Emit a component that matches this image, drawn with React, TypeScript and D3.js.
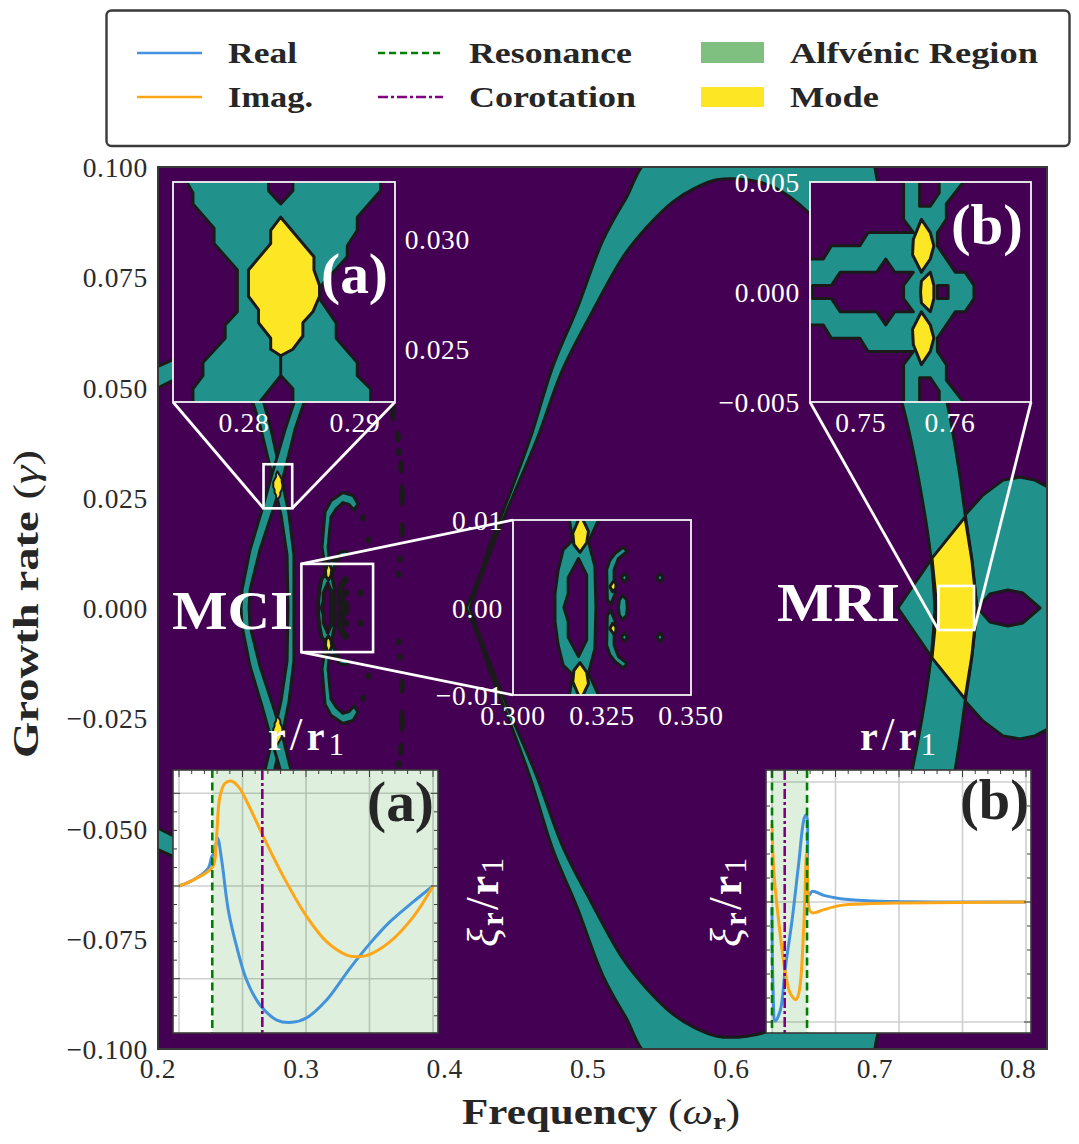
import * as d3 from "d3"

type Pt = [number, number]

const SERIF = "'Liberation Serif', serif"
const PURPLE = "#440154"
const TEAL = "#21918c"
const YELLOW = "#fde725"
const EDGE = "#1a1a1a"
const SPINE = "#3a3a3a"
const BLUE = "#4393dc"
const ORANGE = "#ffa616"
const GREEN = "#008000"
const VIOLET = "#800080"

// main map, upper half only: the growth rate map is mirrored about zero
const arcOuter: Pt[] = [[0.4148, 0], [0.4232, 0.0063], [0.4315, 0.0143], [0.4448, 0.0254], [0.4594, 0.0383], [0.4755, 0.0549], [0.4922, 0.0678], [0.5103, 0.0834], [0.5257, 0.0925], [0.5466, 0.1027], [0.695, 0.1027], [0.7021, 0.0966], [0.7174, 0.0834], [0.7349, 0.0653], [0.7502, 0.0467], [0.7586, 0.0313], [0.7628, 0.0215], [0.7676, 0.0109], [0.7711, 0]]
const arcInner: Pt[] = [[0.4176, 0], [0.4245, 0.0063], [0.435, 0.0154], [0.4476, 0.0254], [0.4643, 0.0383], [0.4824, 0.0542], [0.5013, 0.0662], [0.5243, 0.0796], [0.541, 0.0864], [0.5591, 0.0921], [0.5745, 0.0952], [0.5898, 0.0971], [0.6107, 0.0971], [0.6289, 0.0955], [0.6533, 0.0898], [0.6721, 0.0823], [0.6895, 0.0721], [0.707, 0.0585], [0.7188, 0.0467], [0.7293, 0.0313], [0.7391, 0.0113], [0.7418, 0]]
const ovalHalf: Pt[] = [[0.716, 0], [0.7398, 0.0113], [0.7628, 0.0211], [0.7753, 0.0256], [0.7893, 0.029], [0.8011, 0.0297], [0.8116, 0.029], [0.822, 0.0272], [0.822, 0]]
const ovalHole: Pt[] = [[0.7718, 0], [0.7802, 0.0032], [0.7927, 0.0041], [0.8032, 0.0034], [0.8151, 0]]
const modeMri: Pt[] = [[0.7432, 0], [0.7398, 0.0113], [0.7628, 0.0206], [0.7676, 0.0109], [0.7711, 0]]
const edgeBand: Pt[] = [[0.1944, 0.054], [0.2098, 0.0562], [0.2293, 0.0596], [0.2293, 0.0549], [0.2098, 0.0515], [0.1944, 0.049]]
const mciRightOuter: Pt[] = [[0.2697, 0.0506], [0.2732, 0.0472], [0.2781, 0.0415], [0.2858, 0.0302], [0.2914, 0.0211], [0.2948, 0.012], [0.2948, 0]]
const mciRightInner: Pt[] = [[0.2621, 0.0506], [0.2656, 0.0472], [0.2711, 0.0415], [0.2795, 0.0302], [0.2858, 0.0211], [0.29, 0.012], [0.2907, 0]]
const mciLeftInner: Pt[] = [[0.306, 0.0506], [0.3025, 0.0472], [0.2955, 0.0404], [0.2872, 0.0295], [0.2802, 0.0222], [0.2711, 0.0132], [0.2642, 0.0041], [0.2635, 0]]
const mciLeftOuter: Pt[] = [[0.299, 0.0506], [0.2955, 0.0472], [0.2886, 0.0404], [0.2788, 0.0295], [0.2725, 0.0222], [0.2642, 0.0132], [0.2586, 0.0041], [0.2579, 0]]
const ringHook: Pt[] = [[0.3165, 0.0093], [0.3144, 0.0138], [0.3165, 0.0218], [0.3206, 0.0243], [0.329, 0.0262], [0.336, 0.0255], [0.3395, 0.0236], [0.3367, 0.0222], [0.3332, 0.0235], [0.329, 0.0239], [0.3241, 0.0224], [0.3206, 0.0206], [0.3186, 0.0138], [0.3199, 0.0093]]
const ringSpur: Pt[] = [[0.322, 0.0107], [0.3269, 0.0127], [0.3318, 0.0129], [0.3325, 0.012], [0.3276, 0.0118], [0.3241, 0.0102]]
// thin unresolved islands: frequency, growth, half height
const islands: [number, number, number][] = [[0.3639, 0.0442, 0.002], [0.3674, 0.0388, 0.0014], [0.3681, 0.0354, 0.0009], [0.3695, 0.032, 0.0016], [0.3702, 0.0256, 0.0027], [0.3702, 0.0177, 0.0018], [0.3688, 0.0111, 0.0008], [0.3681, 0.0077, 0.0007], [0.343, 0.0204, 0.0008], [0.3471, 0.0154, 0.0008]]

// zoom (a)
const tealA: Pt[] = [[0.2745, 0.0329], [0.2754, 0.0321], [0.2754, 0.0316], [0.2773, 0.0305], [0.2773, 0.0298], [0.2794, 0.0286], [0.2794, 0.0267], [0.2783, 0.0261], [0.2783, 0.0255], [0.2763, 0.0244], [0.2763, 0.0238], [0.2754, 0.0232], [0.2754, 0.0224], [0.2811, 0.0224], [0.2833, 0.0238], [0.2844, 0.0232], [0.2844, 0.0224], [0.2914, 0.0224], [0.2914, 0.0232], [0.2902, 0.0238], [0.2902, 0.0244], [0.2883, 0.0255], [0.2883, 0.0262], [0.2868, 0.0273], [0.2868, 0.0278], [0.2893, 0.0292], [0.2893, 0.0297], [0.2902, 0.0304], [0.2902, 0.031], [0.2923, 0.0322], [0.2923, 0.0329], [0.2844, 0.0329], [0.2844, 0.0322], [0.2833, 0.0316], [0.2822, 0.0322], [0.2822, 0.0329]]
const modeA: Pt[] = [[0.2833, 0.031], [0.2824, 0.0304], [0.2824, 0.0298], [0.2804, 0.0286], [0.2804, 0.0274], [0.2813, 0.0268], [0.2813, 0.0262], [0.2824, 0.0255], [0.2824, 0.025], [0.2833, 0.0247], [0.2844, 0.025], [0.2853, 0.0256], [0.2853, 0.0262], [0.2862, 0.0267], [0.2868, 0.0274], [0.2868, 0.0279], [0.2863, 0.0286], [0.2863, 0.0292]]
const stubA: Pt[] = [[0.2833, 0.0247], [0.2833, 0.0238]]

// zoom (b)
const tealB: Pt[] = [[0.7435, 0], [0.7435, 0.0015], [0.7458, 0.0015], [0.7467, 0.0021], [0.7499, 0.0021], [0.7508, 0.0027], [0.7559, 0.0027], [0.7548, 0.0033], [0.7548, 0.0052], [0.7566, 0.0052], [0.7566, 0.0039], [0.7578, 0.0039], [0.7588, 0.0045], [0.7588, 0.0052], [0.7619, 0.0052], [0.7596, 0.004], [0.7596, 0.0033], [0.7586, 0.0027], [0.7586, 0.0021], [0.7606, 0.0009], [0.7617, 0.0009], [0.7627, 0.0003], [0.7627, 0]]
const holeB: Pt[] = [[0.7446, 0], [0.7446, 0.0003], [0.7467, 0.0003], [0.7477, 0.0009], [0.7518, 0.0009], [0.7528, 0.0015], [0.7538, 0.0009], [0.7559, 0.0009], [0.7548, 0.0003], [0.7548, 0]]
const squareB: Pt[] = [[0.7586, 0], [0.7586, 0.0003], [0.7598, 0.0003], [0.7598, 0]]
const modeBUpper: Pt[] = [[0.7568, 0.0033], [0.7559, 0.0024], [0.7558, 0.0017], [0.7568, 0.0009], [0.7578, 0.0015], [0.7582, 0.0021], [0.7578, 0.0027]]
const modeBCentre: Pt[] = [[0.7567, 0], [0.7568, 0.0005], [0.7578, 0.0009], [0.7582, 0.0003], [0.7582, 0]]

// zoom around the corotation structure, also drawn in the main map
const tealC: Pt[] = [[0.3118, 0], [0.3118, 0.0016], [0.3127, 0.0043], [0.3141, 0.0066], [0.3168, 0.0077], [0.3155, 0.0108], [0.3249, 0.0108], [0.3212, 0.0075], [0.323, 0.0047], [0.3233, 0]]
const holeC: Pt[] = [[0.3143, 0], [0.3155, 0.0016], [0.3155, 0.0034], [0.3184, 0.0056], [0.3207, 0.0037], [0.3207, 0]]
const crescentC: Pt[] = [[0.3321, 0.0064], [0.331, 0.0069], [0.3287, 0.0062], [0.3272, 0.0054], [0.3263, 0.0043], [0.3265, 0.0009], [0.3274, 0.0003], [0.3287, 0.0016], [0.3284, 0.0032], [0.3284, 0.0043], [0.3296, 0.0056]]
const ovalC: Pt[] = [[0.3296, 0], [0.3299, 0.0009], [0.3308, 0.0014], [0.3319, 0.0009], [0.3321, 0]]
const modeCTop: Pt[] = [[0.319, 0.0106], [0.3212, 0.0087], [0.3207, 0.0074], [0.3188, 0.0063], [0.3171, 0.0072], [0.3168, 0.0085]]
const modeCSmall: Pt[] = [[0.3282, 0.003], [0.3272, 0.0024], [0.328, 0.0018], [0.3289, 0.0022], [0.3289, 0.0028]]
const diamondsC: Pt[] = [[0.3313, 0.0034], [0.3413, 0.0034]]

// eigenfunctions
const realA: Pt[] = [[1, 0], [1.056, 0.065], [1.115, 0.191], [1.129, 0.317], [1.138, 0.353], [1.152, 0.514], [1.168, 0.281], [1.194, -0.259], [1.227, -0.655], [1.266, -1.014], [1.319, -1.284], [1.385, -1.446], [1.444, -1.471], [1.503, -1.421], [1.581, -1.23], [1.673, -0.888], [1.752, -0.619], [1.831, -0.385], [1.923, -0.169], [2, 0]]
const imagA: Pt[] = [[1, 0], [1.056, 0.065], [1.133, 0.209], [1.146, 0.46], [1.161, 0.964], [1.181, 1.108], [1.205, 1.133], [1.234, 1.072], [1.28, 0.838], [1.332, 0.532], [1.411, 0.101], [1.503, -0.331], [1.581, -0.601], [1.66, -0.745], [1.706, -0.763], [1.752, -0.737], [1.831, -0.601], [1.923, -0.331], [2, 0]]
const realB: Pt[] = [[1, -0.042], [1.004, -0.706], [1.013, -0.992], [1.033, -0.9], [1.053, -0.54], [1.079, -0.152], [1.105, 0.319], [1.128, 0.706], [1.136, 0.726], [1.145, 0.055], [1.158, 0.089], [1.204, 0.055], [1.27, 0.028], [1.375, 0.011], [1.507, 0.003], [1.638, 0], [2, 0]]
const imagB: Pt[] = [[1, 0.651], [1.007, 0.263], [1.026, -0.152], [1.053, -0.596], [1.072, -0.762], [1.095, -0.812], [1.108, -0.734], [1.125, -0.208], [1.136, 0.402], [1.141, 0.18], [1.149, -0.075], [1.162, -0.091], [1.204, -0.064], [1.27, -0.028], [1.375, -0.014], [1.507, -0.008], [2, 0]]

const freqTicks = [0.2, 0.3, 0.4, 0.5, 0.6, 0.7, 0.8]
const growthTicks = [-0.1, -0.075, -0.05, -0.025, 0, 0.025, 0.05, 0.075, 0.1]
const radiusTicks = [1, 1.25, 1.5, 1.75, 2]

const legendLines = [
  { label: "Real", color: BLUE, dash: "", col: 0, row: 0, len: 69 },
  { label: "Imag.", color: ORANGE, dash: "", col: 0, row: 1, len: 85 },
  { label: "Resonance", color: GREEN, dash: "7 4", col: 1, row: 0, len: 163 },
  { label: "Corotation", color: VIOLET, dash: "10 3 3 3", col: 1, row: 1, len: 167 },
]

const mirror = (pts: Pt[]): Pt[] => pts.map(([f, g]) => [f, -g] as Pt)
const mirrorLoop = (half: Pt[]): Pt[] => [...half, ...mirror(half).reverse()]
const ribbon = (a: Pt[], b: Pt[]): Pt[] => [...a, ...mirror(a).reverse(), ...mirror(b), ...[...b].reverse()]

const W = 1079
const H = 1144
const xMain = d3.scaleLinear().domain([0.2, 0.82]).range([158, 1047])
const yMain = d3.scaleLinear().domain([-0.1, 0.1]).range([1049, 167])

const xA = d3.scaleLinear().domain([0.2736, 0.2936]).range([173, 395])
const yA = d3.scaleLinear().domain([0.0226, 0.0326]).range([402, 182])
const xB = d3.scaleLinear().domain([0.7443, 0.7691]).range([810, 1031])
const yB = d3.scaleLinear().domain([-0.005, 0.005]).range([402, 182])
const xC = d3.scaleLinear().domain([0.3, 0.35]).range([513, 691])
const yC = d3.scaleLinear().domain([-0.01, 0.01]).range([695, 520])

type Sc = d3.ScaleLinear<number, number>

function loopPath(x: Sc, y: Sc, smooth: boolean, ...loops: Pt[][]) {
  const line = d3.line<Pt>().x((d) => x(d[0])).y((d) => y(d[1]))
  if (smooth) line.curve(d3.curveCatmullRomClosed.alpha(0.5))
  return loops.map((l) => line(l) + "Z").join("")
}

function Region({
  x,
  y,
  loops,
  fill = TEAL,
  width = 3,
  smooth = false,
}: {
  x: Sc
  y: Sc
  loops: Pt[][]
  fill?: string
  width?: number
  smooth?: boolean
}) {
  return (
    <path
      d={loopPath(x, y, smooth, ...loops)}
      fill={fill}
      fillRule="evenodd"
      stroke={EDGE}
      strokeWidth={width}
      strokeLinejoin="round"
    />
  )
}

function Corotation({ x, y, width = 3 }: { x: Sc; y: Sc; width?: number }) {
  const diamond = ([f, g]: Pt): Pt[] => [[f - 0.0009, g], [f, g + 0.0005], [f + 0.0009, g], [f, g - 0.0005]]
  return (
    <g>
      <Region x={x} y={y} width={width} loops={[mirrorLoop(tealC), mirrorLoop(holeC)]} />
      <Region x={x} y={y} width={width} loops={[crescentC, mirror(crescentC), mirrorLoop(ovalC)]} />
      <Region x={x} y={y} width={width} loops={[...diamondsC.map(diamond), ...mirror(diamondsC).map(diamond)]} />
      <Region x={x} y={y} width={Math.min(width, 3)} loops={[modeCTop, mirror(modeCTop), modeCSmall, mirror(modeCSmall)]} fill={YELLOW} />
    </g>
  )
}

function MainMap() {
  return (
    <g clipPath="url(#clip-main)">
      <rect x={158} y={167} width={889} height={882} fill={PURPLE} />
      <Region x={xMain} y={yMain} loops={[mirrorLoop(ovalHalf), mirrorLoop(ovalHole)]} />
      <Region x={xMain} y={yMain} smooth loops={[mirrorLoop(arcOuter), mirrorLoop(arcInner)]} />
      <Region x={xMain} y={yMain} fill={YELLOW} loops={[mirrorLoop(modeMri)]} />
      <Region x={xMain} y={yMain} loops={[edgeBand, mirror(edgeBand)]} />
      <Region x={xMain} y={yMain} loops={[ribbon(mciRightOuter, mciRightInner)]} />
      <Region x={xMain} y={yMain} loops={[ribbon(mciLeftInner, mciLeftOuter)]} />
      <Region x={xMain} y={yMain} fill={YELLOW} width={2} loops={[modeA, mirror(modeA)]} />
      <Region x={xMain} y={yMain} loops={[ringHook, mirror(ringHook), ringSpur, mirror(ringSpur)]} />
      <Corotation x={xMain} y={yMain} width={3.8} />
      {[...islands, ...islands.map(([f, g, h]) => [f, -g, h] as [number, number, number])].map(([f, g, h], i) => (
        <ellipse
          key={i}
          cx={xMain(f)}
          cy={yMain(g)}
          rx={xMain(f + 0.002) - xMain(f)}
          ry={yMain(g - h) - yMain(g)}
          fill={EDGE}
        />
      ))}
    </g>
  )
}

function ZoomBox({ x, y, id, children }: { x: Sc; y: Sc; id: string; children: React.ReactNode }) {
  const [x0, x1] = x.range()
  const [y0, y1] = y.range()
  return (
    <g>
      <clipPath id={id}>
        <rect x={x0} y={y1} width={x1 - x0} height={y0 - y1} />
      </clipPath>
      <rect x={x0} y={y1} width={x1 - x0} height={y0 - y1} fill={PURPLE} />
      <g clipPath={`url(#${id})`}>{children}</g>
      <rect x={x0} y={y1} width={x1 - x0} height={y0 - y1} fill="none" stroke="#f4f4f4" strokeWidth={1.8} />
    </g>
  )
}

// source rectangle on the main map plus the two lines running out to the zoom
function Indicator({ x, y, from, to }: { x: Sc; y: Sc; from: number[]; to: number[] }) {
  const [f0, f1] = x.domain()
  const [g0, g1] = y.domain()
  const lx = xMain(f0)
  const rx = xMain(f1)
  const ty = yMain(g1)
  const by = yMain(g0)
  const pts = [[lx, by], [rx, by], [lx, ty], [lx, by]]
  return (
    <g stroke="#fff" fill="none">
      <rect x={lx} y={ty} width={rx - lx} height={by - ty} strokeWidth={2.6} />
      {from.length === 4 && (
        <>
          <line x1={pts[from[0]][0]} y1={pts[from[0]][1]} x2={to[0]} y2={to[1]} strokeWidth={2.8} />
          <line x1={pts[from[1]][0]} y1={pts[from[1]][1]} x2={to[2]} y2={to[3]} strokeWidth={2.8} />
        </>
      )}
    </g>
  )
}

function Num({ x, y, text, anchor, fill = "#2b2b2b" }: { x: number; y: number; text: string; anchor: "end" | "middle"; fill?: string }) {
  return (
    <text x={x} y={y} textAnchor={anchor} fontFamily={SERIF} fontSize={27.5} letterSpacing={0.7} fill={fill}>
      {text}
    </text>
  )
}

function ModePanel({
  id,
  x0,
  real,
  imag,
  yUnit,
  yZero,
  shade,
  resonances,
  corotation,
  minorRange,
}: {
  id: string
  x0: number
  real: Pt[]
  imag: Pt[]
  yUnit: number
  yZero: number
  shade: number[]
  resonances: number[]
  corotation: number
  minorRange: number[]
}) {
  const top = 770
  const bottom = 1033
  const xs = d3.scaleLinear().domain([1, 2]).range([x0 + 6, x0 + 260])
  const ys = d3.scaleLinear().domain([0, 1]).range([yZero, yZero - yUnit])
  const left = x0
  const right = x0 + 265
  const line = d3.line<Pt>().x((d) => xs(d[0])).y((d) => ys(d[1])).curve(d3.curveCatmullRom.alpha(0.5))
  const minorX = d3.range(1, 2.0001, 0.05)
  const minorY = d3.range(minorRange[0], minorRange[1] + 0.001, 0.2)
  const isMajorY = (v: number) => Math.abs(v - Math.round(v)) < 0.01
  const isMajorX = (v: number) => radiusTicks.some((t) => Math.abs(t - v) < 0.01)
  return (
    <g>
      <clipPath id={id}>
        <rect x={left} y={top} width={right - left} height={bottom - top} />
      </clipPath>
      <rect x={left} y={top} width={right - left} height={bottom - top} fill="#fff" />
      <g clipPath={`url(#${id})`}>
        {radiusTicks.map((t) => (
          <line key={t} x1={xs(t)} x2={xs(t)} y1={top} y2={bottom} stroke="#cfcfcf" strokeWidth={1.6} />
        ))}
        {[-1, 0, 1].map((t) => (
          <line key={t} x1={left} x2={right} y1={ys(t)} y2={ys(t)} stroke="#cfcfcf" strokeWidth={1.6} />
        ))}
        <rect
          x={xs(shade[0])}
          y={top}
          width={Math.min(right, xs(shade[1])) - xs(shade[0])}
          height={bottom - top}
          fill={GREEN}
          opacity={0.13}
        />
        <path d={line(real) ?? ""} fill="none" stroke={BLUE} strokeWidth={3} />
        <path d={line(imag) ?? ""} fill="none" stroke={ORANGE} strokeWidth={3} />
        {resonances.map((r) => (
          <line key={r} x1={xs(r)} x2={xs(r)} y1={top} y2={bottom} stroke={GREEN} strokeWidth={2.6} strokeDasharray="8 4.5" />
        ))}
        <line x1={xs(corotation)} x2={xs(corotation)} y1={top} y2={bottom} stroke={VIOLET} strokeWidth={2.6} strokeDasharray="10 3 3 3" />
      </g>
      {minorX.map((t) => (
        <line key={t} x1={xs(t)} x2={xs(t)} y1={top} y2={top + (isMajorX(t) ? 7 : 4)} stroke={SPINE} strokeWidth={1} />
      ))}
      {minorY.map((t) => (
        <g key={t} stroke={SPINE} strokeWidth={1}>
          <line x1={left} x2={left + (isMajorY(t) ? 7 : 4)} y1={ys(t)} y2={ys(t)} />
          <line x1={right} x2={right - (isMajorY(t) ? 7 : 4)} y1={ys(t)} y2={ys(t)} />
        </g>
      ))}
      <rect x={left} y={top} width={right - left} height={bottom - top} fill="none" stroke={SPINE} strokeWidth={1.6} />
    </g>
  )
}

function PanelTag({ x, y, text, fill, len }: { x: number; y: number; text: string; fill: string; len: number }) {
  return (
    <text x={x} y={y} fontFamily={SERIF} fontSize={56} fontWeight="bold" fill={fill} textLength={len} lengthAdjust="spacingAndGlyphs">
      {text}
    </text>
  )
}

function RadiusLabel({ x }: { x: number }) {
  return (
    <text x={x} y={750} fontFamily={SERIF} fontSize={40} fontWeight="bold" fill="#fff" textLength={76} lengthAdjust="spacing">
      r
      <tspan fontWeight="normal" fontSize={46}>/</tspan>
      <tspan>r</tspan>
      <tspan fontWeight="normal" fontSize={31} dy={5}>1</tspan>
    </text>
  )
}

function XiLabel({ x }: { x: number }) {
  return (
    <text
      transform={`translate(${x},947) rotate(-90)`}
      fontFamily={SERIF}
      fontSize={44}
      fill="#fff"
      textLength={89}
      lengthAdjust="spacing"
    >
      <tspan fontStyle="italic">ξ</tspan>
      <tspan fontWeight="bold" fontSize={31} dy={5}>r</tspan>
      <tspan fontSize={46} dy={-5}>/</tspan>
      <tspan fontWeight="bold">r</tspan>
      <tspan fontSize={31} dy={5}>1</tspan>
    </text>
  )
}

function Legend() {
  const colX = [137, 378]
  const textX = [228, 469]
  const rowY = [53, 97]
  const baseY = [63, 107]
  return (
    <g>
      <rect x={106.5} y={10.5} width={963} height={135.5} rx={5} fill="#fff" stroke={SPINE} strokeWidth={2.4} />
      {legendLines.map((d) => (
        <g key={d.label}>
          <line
            x1={colX[d.col]}
            x2={colX[d.col] + 65}
            y1={rowY[d.row]}
            y2={rowY[d.row]}
            stroke={d.color}
            strokeWidth={2.6}
            strokeDasharray={d.dash}
          />
          <text
            x={textX[d.col]}
            y={baseY[d.row]}
            fontFamily={SERIF}
            fontSize={29}
            fontWeight="bold"
            fill="#262626"
            textLength={d.len}
            lengthAdjust="spacingAndGlyphs"
          >
            {d.label}
          </text>
        </g>
      ))}
      <rect x={701} y={42} width={63} height={21} fill={GREEN} opacity={0.5} />
      <rect x={701} y={87} width={63} height={20} fill={YELLOW} />
      <text x={790} y={63} fontFamily={SERIF} fontSize={29} fontWeight="bold" fill="#262626" textLength={248} lengthAdjust="spacingAndGlyphs">
        Alfvénic Region
      </text>
      <text x={790} y={107} fontFamily={SERIF} fontSize={29} fontWeight="bold" fill="#262626" textLength={89} lengthAdjust="spacingAndGlyphs">
        Mode
      </text>
    </g>
  )
}

export default function App() {
  const fmt3 = d3.format(".3f")
  const fmt2 = d3.format(".2f")
  const fmt1 = d3.format(".1f")
  return (
    <svg width={W} height={H} style={{ position: "absolute", left: 0, top: 0, background: "#fff" }}>
      <clipPath id="clip-main">
        <rect x={158} y={167} width={889} height={882} />
      </clipPath>
      <Legend />
      <MainMap />
      <rect x={158} y={167} width={889} height={882} fill="none" stroke={SPINE} strokeWidth={2} />

      {growthTicks.map((t) => (
        <Num key={t} x={148} y={yMain(t) + 10} text={fmt3(t)} anchor="end" />
      ))}
      {freqTicks.map((t) => (
        <Num key={t} x={xMain(t)} y={1078} text={fmt1(t)} anchor="middle" />
      ))}

      <Indicator x={xA} y={yA} from={[0, 1, 0, 0]} to={[173, 402, 395, 402]} />
      <ZoomBox x={xA} y={yA} id="clip-a">
        <Region x={xA} y={yA} loops={[tealA]} />
        <path d={loopPath(xA, yA, false, stubA)} stroke={EDGE} strokeWidth={3} fill="none" />
        <Region x={xA} y={yA} loops={[modeA]} fill={YELLOW} />
      </ZoomBox>
      {[0.03, 0.025].map((t) => (
        <Num key={t} x={470} y={yA(t) + 10} text={fmt3(t)} anchor="end" fill="#fff" />
      ))}
      {[0.28, 0.29].map((t) => (
        <Num key={t} x={xA(t)} y={432} text={fmt2(t)} anchor="middle" fill="#fff" />
      ))}
      <PanelTag x={321} y={293} text="(a)" fill="#fff" len={67} />

      <Indicator x={xB} y={yB} from={[0, 1, 0, 0]} to={[810, 402, 1031, 402]} />
      <ZoomBox x={xB} y={yB} id="clip-b">
        <Region x={xB} y={yB} loops={[mirrorLoop(tealB), mirrorLoop(holeB), mirrorLoop(squareB)]} />
        <Region x={xB} y={yB} loops={[modeBUpper, mirror(modeBUpper), mirrorLoop(modeBCentre)]} fill={YELLOW} />
      </ZoomBox>
      {[0.005, 0, -0.005].map((t) => (
        <Num key={t} x={800} y={yB(t) + 10} text={fmt3(t)} anchor="end" fill="#fff" />
      ))}
      {[0.75, 0.76].map((t) => (
        <Num key={t} x={xB(t)} y={432} text={fmt2(t)} anchor="middle" fill="#fff" />
      ))}
      <PanelTag x={951} y={244} text="(b)" fill="#fff" len={72} />

      <Indicator x={xC} y={yC} from={[2, 3, 0, 0]} to={[513, 520, 513, 695]} />
      <ZoomBox x={xC} y={yC} id="clip-c">
        <Corotation x={xC} y={yC} />
      </ZoomBox>
      {[0.01, 0, -0.01].map((t) => (
        <Num key={t} x={503} y={yC(t) + 10} text={fmt2(t)} anchor="end" fill="#fff" />
      ))}
      {[0.3, 0.325, 0.35].map((t) => (
        <Num key={t} x={xC(t)} y={725} text={fmt3(t)} anchor="middle" fill="#fff" />
      ))}

      <text x={172} y={629} fontFamily={SERIF} fontSize={54} fontWeight="bold" fill="#fff" textLength={121} lengthAdjust="spacingAndGlyphs">
        MCI
      </text>
      <text x={777} y={621} fontFamily={SERIF} fontSize={54} fontWeight="bold" fill="#fff" textLength={123} lengthAdjust="spacingAndGlyphs">
        MRI
      </text>

      <ModePanel
        id="clip-mode-a"
        x0={173}
        real={realA}
        imag={imagA}
        yUnit={92.7}
        yZero={886}
        shade={[1.131, 2.1]}
        resonances={[1.131]}
        corotation={1.328}
        minorRange={[-1.4, 1]}
      />
      <PanelTag x={367} y={821} text="(a)" fill="#262626" len={67} />
      <ModePanel
        id="clip-mode-b"
        x0={766}
        real={realB}
        imag={imagB}
        yUnit={120}
        yZero={902}
        shade={[1, 1.138]}
        resonances={[1, 1.138]}
        corotation={1.05}
        minorRange={[-1, 0.8]}
      />
      <PanelTag x={960} y={819} text="(b)" fill="#262626" len={69} />

      <RadiusLabel x={268} />
      <RadiusLabel x={860} />
      <XiLabel x={498} />
      <XiLabel x={741} />

      <text
        transform="translate(38,758) rotate(-90)"
        fontFamily={SERIF}
        fontSize={36}
        fontWeight="bold"
        fill="#262626"
        textLength={308}
        lengthAdjust="spacingAndGlyphs"
      >
        Growth rate <tspan fontWeight="normal">(</tspan>
        <tspan fontStyle="italic" fontWeight="normal">γ</tspan>
        <tspan fontWeight="normal">)</tspan>
      </text>
      <text
        x={462}
        y={1124}
        fontFamily={SERIF}
        fontSize={36}
        fontWeight="bold"
        fill="#262626"
        textLength={278}
        lengthAdjust="spacingAndGlyphs"
      >
        Frequency <tspan fontWeight="normal">(</tspan>
        <tspan fontStyle="italic" fontWeight="normal">ω</tspan>
        <tspan fontSize={24} dy={5}>r</tspan>
        <tspan fontWeight="normal" dy={-5}>)</tspan>
      </text>
    </svg>
  )
}
